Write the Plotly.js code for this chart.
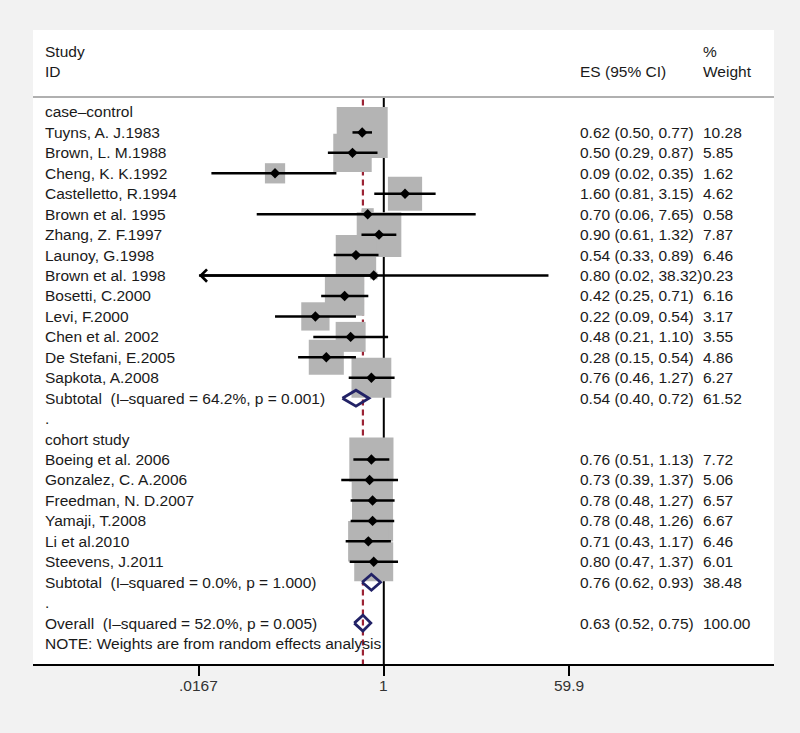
<!DOCTYPE html>
<html><head><meta charset="utf-8">
<script src="https://cdn.plot.ly/plotly-3.0.1.min.js"></script>
<style>html,body{margin:0;padding:0;background:#f2f2f2;}#chart{width:800px;height:733px;}</style>
</head><body><div id="chart"></div>
<script>
// ---- data ----
const groupNames = ["case\u2013control", "cohort study"];

const caseStudies = ["Tuyns, A. J.1983","Brown, L. M.1988","Cheng, K. K.1992","Castelletto, R.1994","Brown et al. 1995","Zhang, Z. F.1997","Launoy, G.1998","Brown et al. 1998","Bosetti, C.2000","Levi, F.2000","Chen et al. 2002","De Stefani, E.2005","Sapkota, A.2008"];
const caseES = [0.62,0.50,0.09,1.60,0.70,0.90,0.54,0.80,0.42,0.22,0.48,0.28,0.76];
const caseLo = [0.50,0.29,0.022,0.81,0.06,0.61,0.33,0.0167,0.25,0.09,0.21,0.15,0.46];
const caseHi = [0.77,0.87,0.35,3.15,7.65,1.32,0.89,38.32,0.71,0.54,1.10,0.54,1.27];
const caseW  = [10.28,5.85,1.62,4.62,0.58,7.87,6.46,0.23,6.16,3.17,3.55,4.86,6.27];

const cohortStudies = ["Boeing et al. 2006","Gonzalez, C. A.2006","Freedman, N. D.2007","Yamaji, T.2008","Li et al.2010","Steevens, J.2011"];
const cohortES = [0.76,0.73,0.78,0.78,0.71,0.80];
const cohortLo = [0.51,0.39,0.48,0.48,0.43,0.47];
const cohortHi = [1.13,1.37,1.27,1.26,1.17,1.37];
const cohortW  = [7.72,5.06,6.57,6.67,6.46,6.01];

// pooled rows: case-control subtotal, cohort subtotal, overall
const pooledLabels = ["Subtotal  (I\u2013squared = 64.2%, p = 0.001)","Subtotal  (I\u2013squared = 0.0%, p = 1.000)","Overall  (I\u2013squared = 52.0%, p = 0.005)"];
const pooledES = [0.54,0.76,0.63];
const pooledLo = [0.40,0.62,0.52];
const pooledHi = [0.72,0.93,0.75];
const pooledW  = [61.52,38.48,100.00];

const tickVals = [0.0167, 1, 59.9];
const tickText = [".0167", "1", "59.9"];
const noteText = "NOTE: Weights are from random effects analysis";

// ---- build rows ----
const groups = [
  {name: groupNames[0], s: caseStudies, es: caseES, lo: caseLo, hi: caseHi, w: caseW},
  {name: groupNames[1], s: cohortStudies, es: cohortES, lo: cohortLo, hi: cohortHi, w: cohortW}
];
const labelRows = [];
const study = {x: [], y: [], lo: [], hi: [], w: []};
const pooled = {y: []};
let r = 0;
const f2 = v => v.toFixed(2);
const esStr = (e, l, h) => f2(e) + " (" + f2(l) + ", " + f2(h) + ")";
groups.forEach((g, gi) => {
  labelRows.push({y: r, text: g.name}); r++;
  g.s.forEach((name, i) => {
    labelRows.push({y: r, text: name, es: esStr(g.es[i], g.lo[i], g.hi[i]), wt: f2(g.w[i])});
    study.x.push(g.es[i]); study.y.push(r); study.lo.push(g.lo[i]); study.hi.push(g.hi[i]); study.w.push(g.w[i]);
    r++;
  });
  labelRows.push({y: r, text: pooledLabels[gi], es: esStr(pooledES[gi], pooledLo[gi], pooledHi[gi]), wt: f2(pooledW[gi])});
  pooled.y.push(r); r++;
  labelRows.push({y: r, text: "."}); r++;
});
labelRows.push({y: r, text: pooledLabels[2], es: esStr(pooledES[2], pooledLo[2], pooledHi[2]), wt: f2(pooledW[2])});
pooled.y.push(r); r++;
labelRows.push({y: r, text: noteText}); r++;
const axisRow = r;
const headerTop = -2.94, headerBottom = -1.96, sepRow = -0.73;
const xMin = tickVals[0];

// ---- traces ----
const traces = [];
traces.push({x: [1, 1], y: [sepRow, axisRow], mode: 'lines', line: {color: '#000', width: 2}, hoverinfo: 'skip'});
traces.push({x: [pooledES[2], pooledES[2]], y: [sepRow + 0.12, axisRow], mode: 'lines', line: {color: '#9b2335', width: 2.2, dash: '6px,4px'}, hoverinfo: 'skip'});
traces.push({x: study.x, y: study.y, mode: 'markers', hoverinfo: 'skip',
  marker: {symbol: 'square', color: '#b4b4b4', opacity: 1, line: {width: 0}, size: study.w.map(w => 15.9 * Math.sqrt(w))}});
const cx = [], cy = [];
study.x.forEach((e, i) => { cx.push(Math.max(study.lo[i], xMin), study.hi[i], null); cy.push(study.y[i], study.y[i], null); });
traces.push({x: cx, y: cy, mode: 'lines', line: {color: '#000', width: 2.5}, hoverinfo: 'skip', connectgaps: false});
traces.push({x: study.x, y: study.y, mode: 'markers', hoverinfo: 'skip', marker: {symbol: 'diamond', color: '#000', size: 8}});
const h = 0.39;
pooled.y.forEach((yy, i) => {
  traces.push({x: [pooledLo[i], pooledES[i], pooledHi[i], pooledES[i], pooledLo[i]],
    y: [yy, yy - h, yy, yy + h, yy], mode: 'lines', line: {color: '#222266', width: 2.8}, hoverinfo: 'skip'});
});

// ---- annotations ----
const pxToPaper = px => (px - 33) / 741;
const colStudy = pxToPaper(43), colES = pxToPaper(578), colW = pxToPaper(701);
const ann = [];
const txt = (x, y, t) => ann.push({xref: 'paper', yref: 'y', x: x, y: y, text: t, showarrow: false, xanchor: 'left', yanchor: 'middle'});
txt(colStudy, headerTop, "Study");
txt(colStudy, headerBottom, "ID");
txt(colES, headerBottom, "ES (95% CI)");
txt(colW, headerTop, "%");
txt(colW, headerBottom, "Weight");
labelRows.forEach(lr => {
  txt(colStudy, lr.y, lr.text);
  if (lr.es) txt(colES, lr.y, lr.es);
  if (lr.wt) txt(colW, lr.y, lr.wt);
});
// axis tick labels
tickVals.forEach((v, i) => {
  ann.push({xref: 'x', yref: 'paper', x: Math.log10(v), y: -21 / 634, text: tickText[i], showarrow: false,
    xanchor: 'center', yanchor: 'middle', font: {size: 15.5, color: '#333'}});
});
study.x.forEach((e, i) => {
  if (study.lo[i] <= xMin) {
    ann.push({xref: 'x', yref: 'y', axref: 'x', ayref: 'y', x: Math.log10(xMin), y: study.y[i],
      ax: Math.log10(e), ay: study.y[i], text: '', showarrow: true, arrowhead: 4, arrowsize: 0.95,
      arrowwidth: 2.5, arrowcolor: '#000'});
  }
});

const layout = {
  width: 800, height: 733,
  paper_bgcolor: '#f2f2f2', plot_bgcolor: '#ffffff',
  margin: {l: 33, r: 26, t: 30, b: 69, pad: 0},
  showlegend: false,
  font: {family: '"Liberation Sans", Arial, sans-serif', size: 15.5, color: '#1a1a1a'},
  xaxis: {type: 'log', range: [-3.373, 3.752], tickvals: tickVals, ticktext: tickText,
    ticks: 'outside', ticklen: 10, tickwidth: 2, tickcolor: '#000', showticklabels: false,
    showline: true, linecolor: '#000', linewidth: 2, showgrid: false, zeroline: false,
    fixedrange: true},
  yaxis: {range: [axisRow, -4.01], showticklabels: false, showgrid: false, zeroline: false,
    showline: false, ticks: '', fixedrange: true},
  shapes: [{type: 'line', xref: 'paper', yref: 'y', x0: 0, x1: 1, y0: sepRow, y1: sepRow,
    line: {color: '#b0b0b0', width: 2}}],
  annotations: ann
};
Plotly.newPlot('chart', traces, layout, {displayModeBar: false, staticPlot: true});
</script>
</body></html>
